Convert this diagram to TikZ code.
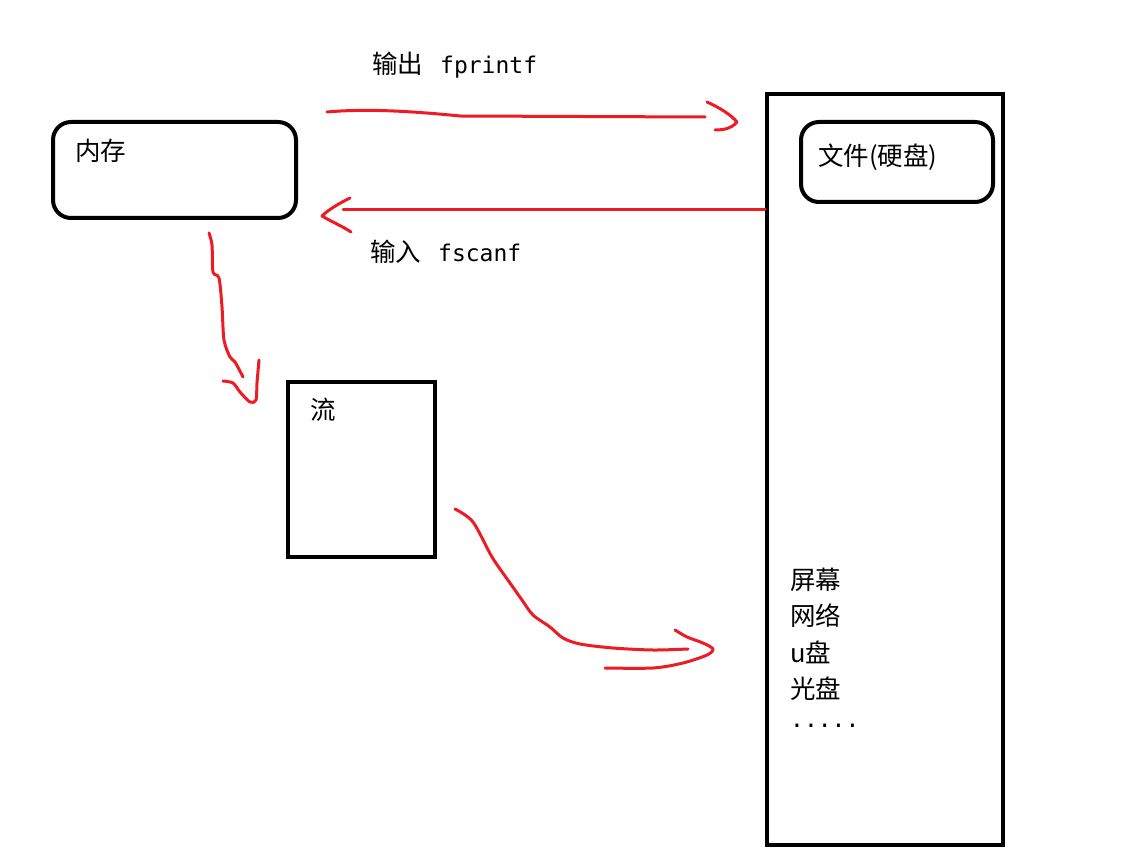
\documentclass[tikz,border=0pt]{standalone}
\usepackage{fontspec}
\setmainfont{Noto Sans CJK SC}
\newfontfamily\monofont{DejaVu Sans Mono}
\definecolor{pred}{RGB}{237,28,36}
\tikzset{
  box/.style={draw=black, line width=4pt, inner sep=0pt, fill=none},
  rbox/.style={box, rounded corners=18pt},
  lbl/.style={anchor=west, inner sep=0pt, font=\fontsize{25.5}{30}\selectfont},
  stroke/.style={draw=pred, line width=3pt, line cap=round, line join=round}
}
\newcommand{\mytt}[1]{{\monofont\fontsize{23}{28}\selectfont #1}}
\begin{document}
\begin{tikzpicture}[x=1pt,y=-1pt]
\useasboundingbox[fill=white] (0,0) rectangle (1127,866);
% boxes
\node[rbox, minimum width=243pt, minimum height=96pt] (mem) at (174.5,170) {};
\node[box, minimum width=236pt, minimum height=751pt] (dev) at (885,469.5) {};
\node[rbox, minimum width=192pt, minimum height=80pt] (file) at (897,162) {};
\node[box, minimum width=147pt, minimum height=175pt] (flow) at (361.5,469.5) {};
% labels
\node[lbl] (memt) at (75,151) {内存};
\node[lbl] (filet) at (818,157) {文件(硬盘)};
\node[lbl] (flowt) at (310,410) {流};
\node[lbl] (outt) at (372,65) {输出\hspace{17pt}\mytt{fprintf}};
\node[lbl] (int) at (370,252) {输入\hspace{17pt}\mytt{fscanf}};
\node[lbl] (l1) at (790,580) {屏幕};
\node[lbl] (l2) at (790,616) {网络};
\node[lbl] (l3) at (790,652) {u盘};
\node[lbl] (l4) at (790,689) {光盘};
\node[lbl] (l5) at (790,726) {\mytt{.....}};
% output arrow
\draw[stroke] (327,112) .. controls (360,109) and (400,110) .. (460,116) -- (705,117);
\draw[stroke] (707,102) .. controls (720,108) and (730,114) .. (737,122) .. controls (732,128) and (725,130) .. (715,130);
% input arrow
\coordinate (inS) at (dev.west |- 0,210);
\draw[stroke] (inS) -- (343,210);
\draw[stroke] (350,198) .. controls (338,204) and (328,210) .. (322,216) .. controls (332,222) and (342,226) .. (351,232);
% down arrow
\draw[stroke] plot[smooth, tension=0.5] coordinates {(209,233) (212,245) (213,272) (219,278) (222,307) (224,340) (230,357) (235,362) (243,377)};
\draw[stroke] plot[smooth, tension=0.5] coordinates {(223,381) (233,383) (240,392) (250,402) (256,400) (257,383) (259,360)};
% lower arrow
\draw[stroke] plot[smooth, tension=0.5] coordinates {(455,509) (473,522) (492,557) (510,583) (522,600) (533,615) (550,627) (563,638) (580,644) (613,648) (653,650) (688,649)};
\draw[stroke] plot[smooth, tension=0.5] coordinates {(675,630) (687,637) (703,643) (713,649) (707,655) (683,663) (653,668) (605,668)};
\end{tikzpicture}
\end{document}
